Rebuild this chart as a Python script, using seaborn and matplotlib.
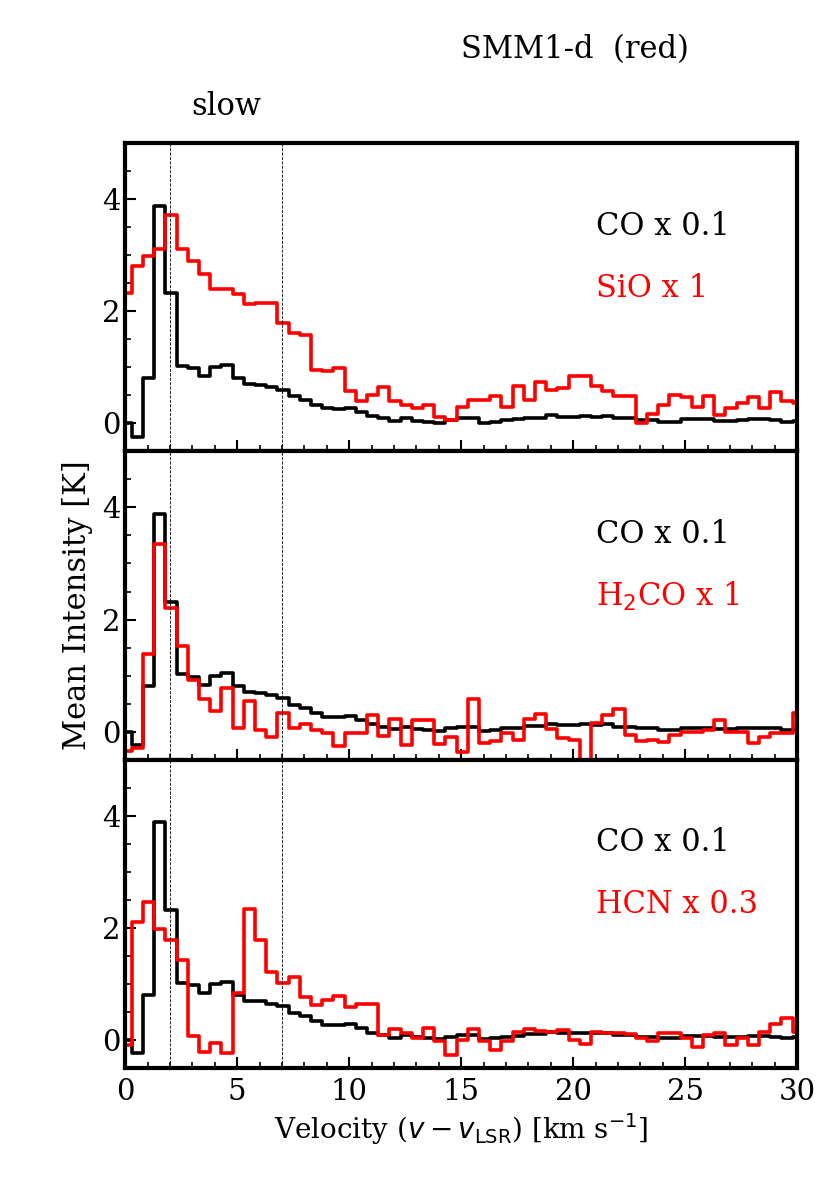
import numpy as np
import pandas as pd
import matplotlib
matplotlib.use("Agg")
import matplotlib.pyplot as plt
import seaborn as sns
from matplotlib.ticker import MultipleLocator

# channel grid (km/s)
chan_width = 0.5
v_first = 0.05
velocity = v_first + chan_width * np.arange(61)

# CO x 0.1 (same in all panels)
co = [0.0, -0.24, 0.81, 3.88, 2.32, 1.02, 0.98, 0.84, 1.0, 1.04,
      0.81, 0.70, 0.69, 0.65, 0.60, 0.48, 0.42, 0.33, 0.27, 0.26,
      0.28, 0.21, 0.13, 0.09, 0.04, 0.09, 0.05, 0.03, 0.01, 0.06,
      0.09, 0.09, 0.01, 0.03, 0.06, 0.07, 0.10, 0.10, 0.14, 0.12,
      0.12, 0.13, 0.12, 0.13, 0.09, 0.09, 0.06, 0.06, 0.03, 0.03,
      0.07, 0.07, 0.07, 0.05, 0.05, 0.06, 0.07, 0.07, 0.06, 0.03,
      0.05]

sio = [2.33, 2.81, 2.99, 3.11, 3.72, 3.11, 2.90, 2.66, 2.39, 2.39,
       2.30, 2.12, 2.15, 2.15, 1.79, 1.61, 1.58, 0.96, 0.94, 0.99,
       0.57, 0.39, 0.51, 0.65, 0.39, 0.33, 0.27, 0.33, 0.12, 0.06,
       0.30, 0.42, 0.42, 0.49, 0.30, 0.66, 0.42, 0.73, 0.59, 0.63,
       0.85, 0.84, 0.66, 0.57, 0.48, 0.48, 0.01, 0.17, 0.33, 0.51,
       0.47, 0.30, 0.48, 0.15, 0.27, 0.36, 0.47, 0.28, 0.56, 0.39,
       0.36]

h2co = [-0.35, -0.30, 1.39, 3.34, 2.20, 1.52, 0.92, 0.59, 0.36, 0.77,
        0.06, 0.55, 0.03, -0.10, 0.34, 0.06, 0.13, 0.03, -0.03, -0.26,
        -0.02, -0.02, 0.30, -0.07, 0.22, -0.24, 0.21, 0.21, -0.22, -0.10,
        -0.36, 0.59, -0.21, -0.16, -0.02, -0.15, 0.22, 0.31, 0.04, -0.12,
        -0.15, -0.50, 0.15, 0.30, 0.41, -0.06, -0.16, -0.14, -0.18, -0.06,
        0.0, 0.0, 0.03, 0.21, 0.0, 0.0, -0.21, -0.09, -0.03, -0.03,
        0.33]

hcn = [-0.09, 2.10, 2.46, 1.98, 1.79, 1.42, 0.07, -0.21, -0.05, -0.23,
       0.83, 2.34, 1.79, 1.22, 1.01, 1.13, 0.77, 0.62, 0.71, 0.78,
       0.58, 0.65, 0.64, 0.09, 0.19, 0.13, 0.03, 0.22, -0.02, -0.26,
       0.0, 0.19, -0.02, -0.18, -0.02, 0.15, 0.20, 0.16, 0.15, 0.18,
       0.0, -0.08, 0.15, 0.13, 0.12, 0.10, 0.03, -0.02, 0.12, 0.13,
       0.03, -0.12, 0.09, 0.13, -0.09, 0.03, -0.09, 0.15, 0.28, 0.40,
       0.15]

lines = [("SiO x 1", sio), ("H$_2$CO x 1", h2co), ("HCN x 0.3", hcn)]
slow_range = [2, 7]

sns.set_style("ticks", {"axes.edgecolor": "black", "text.color": "black",
                        "xtick.color": "black", "ytick.color": "black",
                        "axes.labelcolor": "black"})
plt.rcParams["font.family"] = "serif"
plt.rcParams["mathtext.fontset"] = "dejavusans"

fig, axs = plt.subplots(3, 1, sharex=True, figsize=(8.4, 11.88), dpi=100)
fig.subplots_adjust(left=0.149, right=0.949, bottom=0.101, top=0.8796, hspace=0)

for ax, (label, red) in zip(axs, lines):
    df = pd.DataFrame({"v": velocity, "co": co, "red": red})
    sns.lineplot(data=df, x="v", y="co", ax=ax, color="black", lw=2.6,
                 drawstyle="steps-mid", estimator=None, legend=False)
    sns.lineplot(data=df, x="v", y="red", ax=ax, color="#ff0000", lw=2.6,
                 drawstyle="steps-mid", estimator=None, legend=False)
    for v in slow_range:
        ax.axvline(v, color="black", ls="--", lw=0.6)
    ax.set_xlim(0, 30)
    ax.set_ylim(-0.5, 5)
    ax.set_yticks([0, 2, 4])
    ax.xaxis.set_major_locator(MultipleLocator(5))
    ax.xaxis.set_minor_locator(MultipleLocator(1))
    ax.yaxis.set_minor_locator(MultipleLocator(0.5))
    ax.tick_params(which="both", direction="in", labelsize=21, colors="black")
    ax.tick_params(which="major", length=8, width=1.5)
    ax.tick_params(which="minor", length=4, width=1.2)
    for sp in ax.spines.values():
        sp.set_linewidth(3)
        sp.set_color("black")
    ax.set_xlabel("")
    ax.set_ylabel("")
    ax.text(21, 3.52, "CO x 0.1", fontsize=22, va="center", color="black")
    ax.text(21, 2.41, label, fontsize=22, va="center", color="#ff0000")

axs[0].text(4.5, 5.66, "slow", fontsize=22, ha="center", va="center")
fig.text(0.685, 0.958, "SMM1-d  (red)", fontsize=22, ha="center", va="center")
axs[1].set_ylabel("Mean Intensity [K]", fontsize=22, labelpad=6)
axs[2].set_xlabel(r"Velocity ($v - v_{\rm LSR}$) [km s$^{-1}$]", fontsize=20)
axs[2].tick_params(axis="x", pad=7)

fig.savefig("out.png", dpi=100)
